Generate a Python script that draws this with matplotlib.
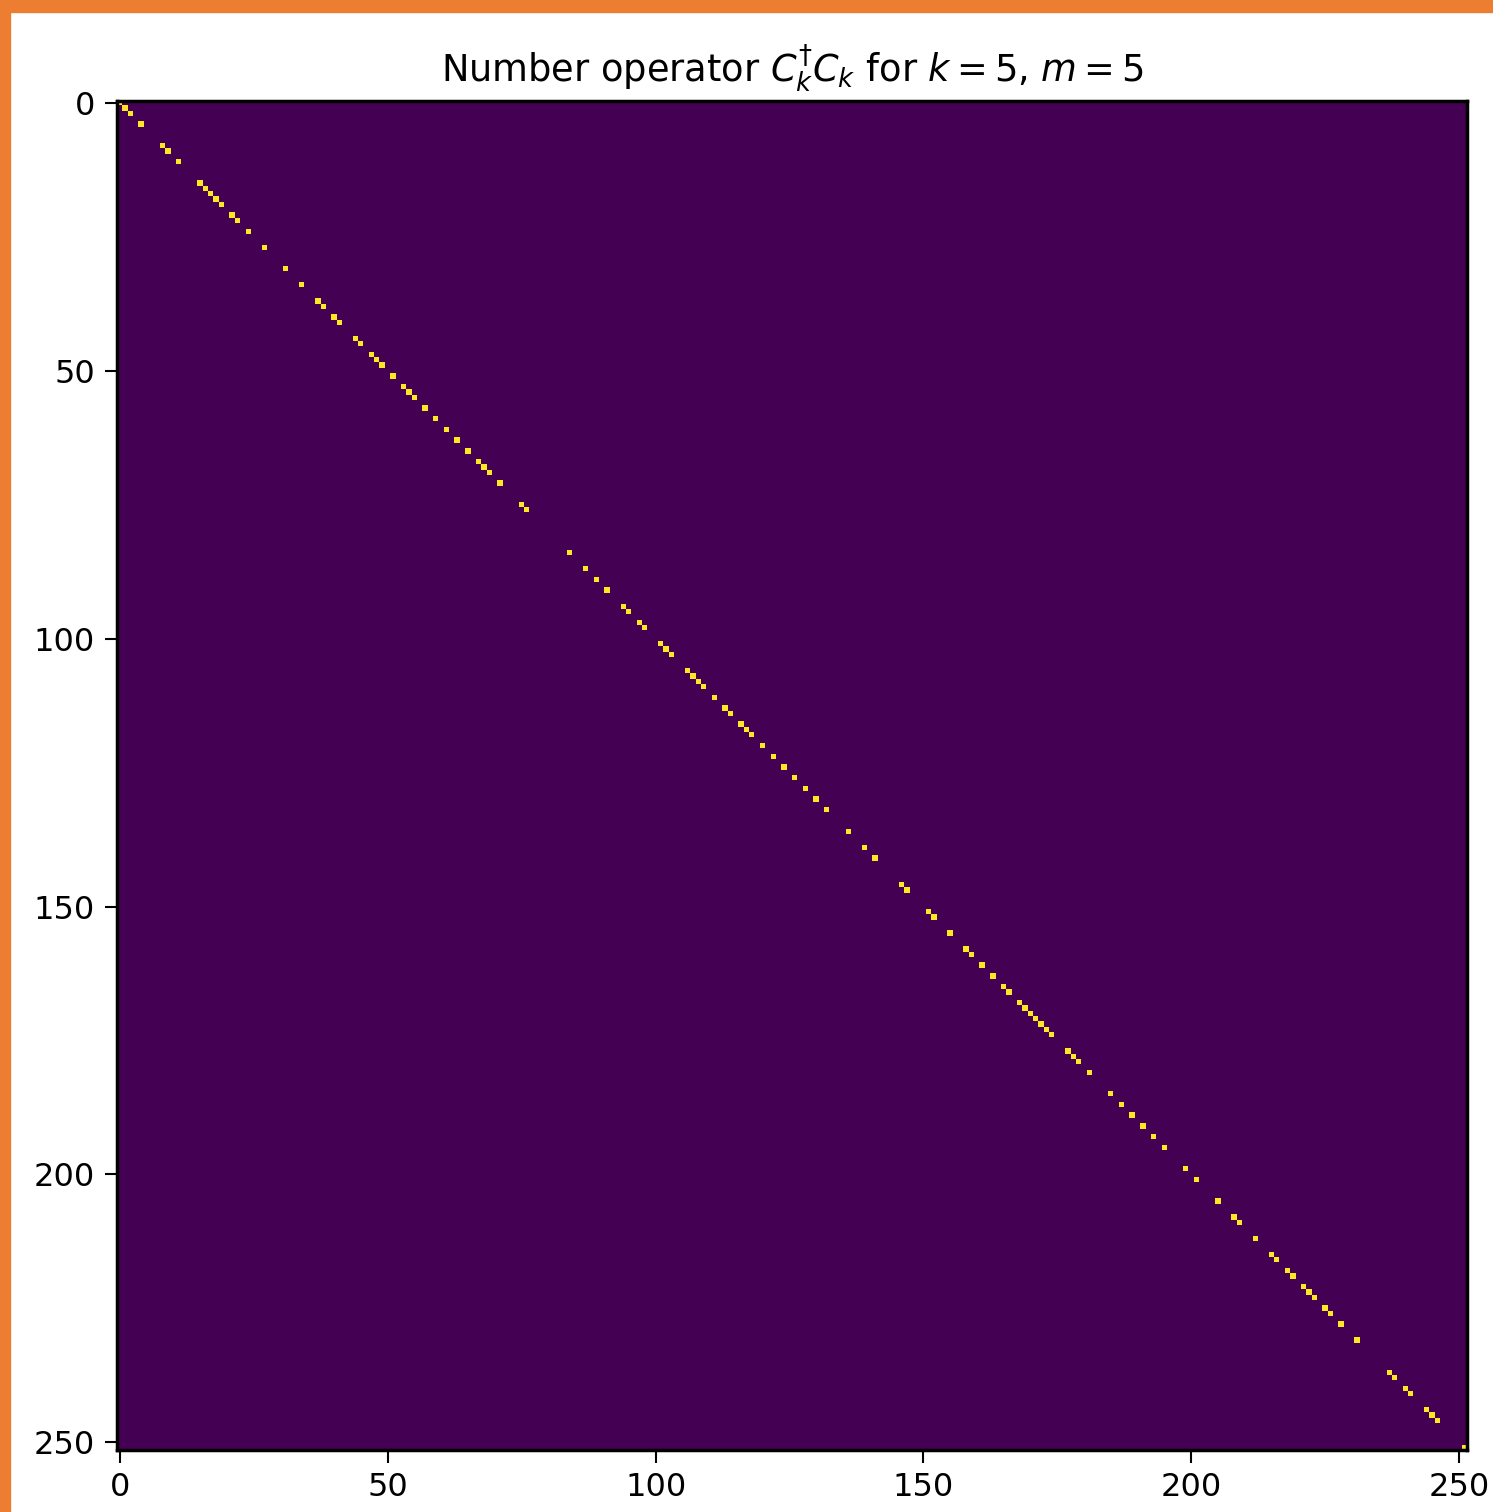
import matplotlib
matplotlib.use('Agg')
import matplotlib.pyplot as plt
import numpy as np
from matplotlib.patches import Rectangle

# dimension of the basis (10 choose 5)
n_states = 252
# diagonal positions where the number operator is 1
occupied = [0, 1, 2, 4, 8, 9, 11, 15, 16, 17, 18, 19, 21,
            22, 24, 27, 31, 34, 37, 38, 40, 41,
            44, 45, 47, 48, 49, 51, 53, 54, 55, 57, 59, 61, 63,
            65, 67, 68, 69, 71, 75, 76, 84,
            87, 89, 91, 94, 95, 97, 98, 101, 102, 103, 106,
            107, 108, 109, 111, 113, 114, 116, 117, 118, 120, 122, 124, 126,
            128, 130, 132, 136, 139, 141, 146, 147,
            151, 152, 155, 158, 159, 161, 163, 165, 166, 168, 169,
            170, 171, 172, 173, 174, 177, 178, 179, 181, 185, 187, 189,
            191, 193, 195, 199, 201, 205, 208, 209,
            212, 215, 216, 218, 219, 221, 222, 223, 225, 226, 228, 231,
            237, 238, 240, 241, 244, 245, 246, 251]

mat = np.zeros((n_states, n_states))
mat[occupied, occupied] = 1.0

fig = plt.figure(figsize=(14.93, 15.12), dpi=100)
ax = fig.add_axes([117.3 / 1493, 1 - 1450 / 1512, (1467 - 117.3) / 1493, (1450 - 100.7) / 1512])
ax.imshow(mat, cmap='viridis', interpolation='nearest', aspect='auto')

ax.set_title(r'Number operator $C_k^{\dagger}C_k$ for $k = 5$, $m = 5$', fontsize=26.5, pad=14)
ax.set_xticks([0, 50, 100, 150, 200, 250])
ax.set_yticks([0, 50, 100, 150, 200, 250])
ax.tick_params(labelsize=23, length=9, width=1.5, pad=7)
for s in ax.spines.values():
    s.set_linewidth(2.5)

# orange frame on the left and top edges
orange = '#ED7D31'
fig.patches.append(Rectangle((0, 0), 10 / 1493, 1, transform=fig.transFigure, color=orange, zorder=10))
fig.patches.append(Rectangle((0, 1 - 12 / 1512), 1, 12 / 1512, transform=fig.transFigure, color=orange, zorder=10))

fig.savefig('out.png', dpi=100)
